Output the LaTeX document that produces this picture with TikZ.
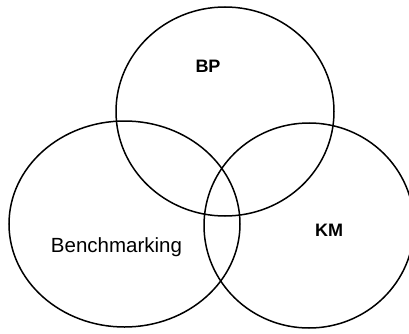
\documentclass[tikz,border=0pt]{standalone}
\usepackage{fontspec}
\setmainfont{Liberation Sans}
\tikzset{
  venn/.style={draw=black, line width=1.5pt},
  tagbold/.style={font=\fontsize{18}{20}\selectfont\bfseries},
  tagplain/.style={font=\fontsize{20.5}{22}\selectfont}
}
\begin{document}
\begin{tikzpicture}[x=1pt,y=-1pt]
\useasboundingbox (0,0) rectangle (409,334);
%
\coordinate(cbp) at (225,111.5);
\draw[venn](cbp) ellipse [x radius=109pt, y radius=104.5pt];
\node[tagbold](bp) at (208,66.5) {BP};
%
\coordinate(cbm) at (124.5,224);
\draw[venn](cbm) ellipse [x radius=115.5pt, y radius=103pt];
\node[tagplain](bm) at (116.5,247) {Benchmarking};
% small break in the outline
\fill[white] (32,291.5) circle [radius=1.6pt];
%
\coordinate(ckm) at (309,225.5);
\draw[venn](ckm) ellipse [x radius=105pt, y radius=102.5pt];
\node[tagbold](km) at (329,230) {KM};
\end{tikzpicture}
\end{document}
